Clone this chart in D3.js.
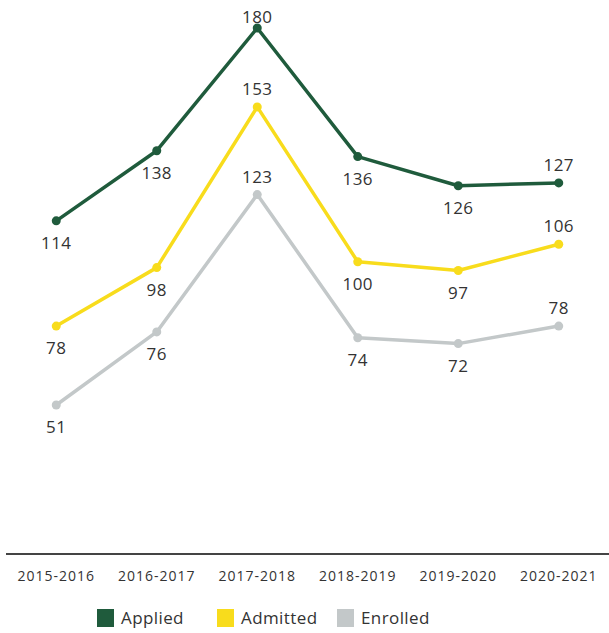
<!DOCTYPE html>
<html lang="en">
<head>
<meta charset="utf-8">
<script src="https://cdn.jsdelivr.net/npm/d3@7"></script>
<style>
  body { margin: 0; background: #fff; }
  text { font-family: "Open Sans", sans-serif; fill: #333; }
</style>
</head>
<body>
<div id="chart"></div>
<script>
// categories and series
var years = ["2015-2016", "2016-2017", "2017-2018", "2018-2019", "2019-2020", "2020-2021"];
var applied = [114, 138, 180, 136, 126, 127];
var admitted = [78, 98, 153, 100, 97, 106];
var enrolled = [51, 76, 123, 74, 72, 78];
// which labels sit above the point
var labelAbove = [false, false, true, false, false, true];

var series = [
  {name: "Applied", values: applied, color: "#1f5b3c"},
  {name: "Admitted", values: admitted, color: "#f8dc1c"},
  {name: "Enrolled", values: enrolled, color: "#c3c8c9"}
];

var w = 609, h = 633;

var svg = d3.select("#chart").append("svg")
  .attr("width", w)
  .attr("height", h);

var x = d3.scaleBand().domain(years).range([6, 609]);
var y = d3.scaleLinear().domain([0, 180]).range([554, 28]);
var cx = d => x(d) + x.bandwidth() / 2;

// axis line
svg.append("line")
  .attr("x1", 6).attr("x2", 609)
  .attr("y1", 554).attr("y2", 554)
  .attr("stroke", "#444").attr("stroke-width", 2);

// tick labels
svg.selectAll(".tick")
  .data(years)
  .enter()
  .append("text")
  .attr("x", d => cx(d))
  .attr("y", 581)
  .attr("text-anchor", "middle")
  .style("font-size", "14px")
  .style("letter-spacing", "1px")
  .text(d => d);

var line = d3.line()
  .x((d, i) => cx(years[i]))
  .y(d => y(d));

series.forEach(s => {
  var g = svg.append("g");
  g.append("path")
    .datum(s.values)
    .attr("d", line)
    .attr("fill", "none")
    .attr("stroke", s.color)
    .attr("stroke-width", 3.5)
    .attr("stroke-linejoin", "round");
  g.selectAll("circle")
    .data(s.values)
    .enter()
    .append("circle")
    .attr("cx", (d, i) => cx(years[i]))
    .attr("cy", d => y(d))
    .attr("r", 4.5)
    .attr("fill", s.color);
  g.selectAll("text")
    .data(s.values)
    .enter()
    .append("text")
    .attr("x", (d, i) => cx(years[i]))
    .attr("y", (d, i) => labelAbove[i] ? Math.max(y(d) - 12, 23) : y(d) + 28)
    .attr("text-anchor", "middle")
    .style("font-size", "17px")
    .style("letter-spacing", "0.5px")
    .text(d => d);
});

// legend
var legX = [97, 217, 337];
var leg = svg.selectAll(".leg")
  .data(series)
  .enter()
  .append("g")
  .attr("transform", (d, i) => "translate(" + legX[i] + ",609)");
leg.append("rect")
  .attr("width", 17).attr("height", 18)
  .attr("fill", d => d.color);
leg.append("text")
  .attr("x", 24).attr("y", 15)
  .style("font-size", "17px")
  .style("letter-spacing", "0.4px")
  .text(d => d.name);
</script>
</body>
</html>
